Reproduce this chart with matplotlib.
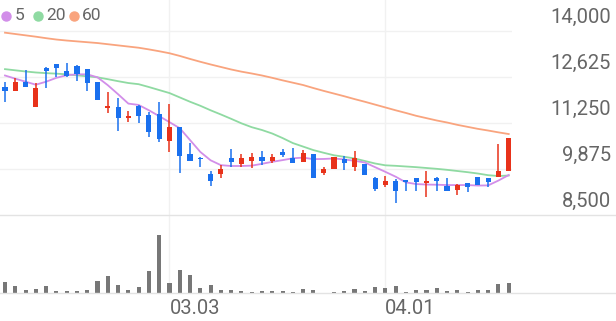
import matplotlib
matplotlib.use('Agg')
import matplotlib.pyplot as plt
from matplotlib.transforms import blended_transform_factory
from matplotlib.lines import Line2D

plt.rcParams['font.family'] = ['Roboto', 'DejaVu Sans']

# ---------------- data ----------------
open_ = [12320, 12210, 12480, 11720, 12900, 13000, 12810, 12950, 12860, 12470,
         11690, 11740, 11410, 11760, 11490, 11510, 10720, 11140, 10320, 10210,
         9730, 9730, 10210, 10020, 10110, 10220, 10110, 10390, 10190, 10080,
         10320, 9750, 9870, 10170, 9940, 10020, 9620, 9400, 9520, 9550,
         9620, 9450, 9600, 9380, 9250, 9450, 9650, 9600, 9630, 9820]
close = [12220, 12480, 12340, 12300, 12800, 12900, 12660, 12710, 12450, 11940,
         11760, 11390, 11470, 11470, 10970, 10760, 11140, 10270, 10120, 10170,
         9530, 9870, 10080, 10190, 10220, 10110, 10220, 10290, 10060, 10340,
         9620, 9870, 10240, 10050, 10190, 9700, 9270, 9520, 9220, 9480,
         9500, 9520, 9520, 9230, 9400, 9350, 9400, 9480, 9820, 10810]
high = [12480, 12590, 12830, 12450, 12930, 13000, 13050, 12980, 12860, 12470,
        12190, 11990, 11610, 11790, 11590, 11890, 11810, 11140, 10640, 10220,
        9820, 9990, 10460, 10320, 10340, 10420, 10310, 10460, 10490, 10440,
        10320, 9940, 10240, 10260, 10420, 10020, 9650, 9670, 9570, 9550,
        9620, 9820, 9650, 9620, 9430, 9450, 9650, 9600, 10610, 10810]
low = [11890, 12210, 12320, 11720, 12300, 12630, 12630, 12510, 12210, 11940,
       11540, 11020, 11280, 11260, 10820, 10690, 10390, 9760, 10120, 9930,
       9370, 9600, 9930, 9930, 9900, 9990, 10050, 10220, 10060, 10080,
       9620, 9700, 9870, 9850, 9820, 9700, 9230, 9350, 8850, 9220,
       9220, 9050, 9220, 9230, 9100, 9200, 9400, 9330, 9630, 9820]
volume = [220000, 134000, 66000, 80000, 146000, 46000, 46000, 46000, 66000, 234000,
          334000, 166000, 60000, 120000, 434000, 1154000, 200000, 466000, 366000, 100000,
          154000, 66000, 66000, 34000, 30000, 34000, 46000, 46000, 20000, 80000,
          66000, 10000, 14000, 34000, 80000, 46000, 120000, 100000, 134000, 20000,
          54000, 66000, 94000, 34000, 54000, 14000, 66000, 54000, 186000, 200000]
ma5 = [12670, 12575, 12485, 12395, 12485, 12600, 12680, 12705, 12705, 12615,
       12380, 12110, 11830, 11790, 11630, 11455, 11275, 11095, 10740, 10385,
       10135, 9990, 9965, 9965, 9975, 10030, 10090, 10140, 10195, 10215,
       10170, 10175, 10190, 10160, 10120, 10070, 9930, 9790, 9645, 9475,
       9425, 9410, 9405, 9395, 9395, 9395, 9380, 9385, 9530, 9695]
ma20 = [12860, 12825, 12790, 12760, 12740, 12725, 12705, 12675, 12645, 12615,
        12560, 12500, 12445, 12410, 12325, 12235, 12145, 12015, 11885, 11765,
        11630, 11505, 11375, 11240, 11125, 11040, 10935, 10800, 10650, 10545,
        10440, 10360, 10285, 10240, 10190, 10115, 10040, 9985, 9970, 9950,
        9930, 9905, 9880, 9850, 9815, 9780, 9740, 9690, 9665, 9680]
ma60 = [13950, 13910, 13870, 13830, 13785, 13745, 13715, 13690, 13665, 13640,
        13605, 13570, 13535, 13500, 13450, 13395, 13335, 13255, 13165, 13080,
        13000, 12925, 12850, 12785, 12730, 12670, 12600, 12525, 12455, 12385,
        12295, 12210, 12130, 12050, 11965, 11885, 11800, 11715, 11630, 11550,
        11465, 11395, 11325, 11265, 11195, 11135, 11075, 11025, 10970, 10920]
price_ticks = [8500, 9875, 11250, 12625, 14000]
date_tick_idx = [16, 37]
date_tick_labels = ['03.03', '04.01']
legend_labels = ['5', '20', '60']

# ---------------- styles ----------------
RED = '#e8321a'
BLUE = '#1a70ee'
C5, C20, C60 = '#d28ee9', '#8fdaa2', '#f9a47e'
GRID = '#f1f1f1'
SEP = '#e3e3e3'
TXT = '#666666'

W, H = 616, 321
fig = plt.figure(figsize=(W / 100, H / 100), dpi=100)
fig.patch.set_facecolor('white')

step = 10.28
x0 = 5
plot_w = 512
xlim = (-x0 / step, (plot_w - x0) / step)

# price axes: pixel y 0..215
ax = fig.add_axes([0, (H - 215) / H, plot_w / W, 215 / H])
ax.set_xlim(*xlim)
ax.set_ylim(8500, 8500 + 215 * 1375 / 46)
ax.axis('off')

# volume axes: pixel y 215..293
vax = fig.add_axes([0, (H - 293) / H, plot_w / W, 78 / H])
vax.set_xlim(*xlim)
vax.set_ylim(0, 78 * 20000)
vax.axis('off')

n = len(close)
xs = list(range(n))

for v in price_ticks[1:]:
    ax.axhline(v, color=GRID, lw=1, zorder=0)
for i in date_tick_idx:
    ax.axvline(i, color=GRID, lw=1, zorder=0)
    vax.axvline(i, color=GRID, lw=1, zorder=0)

# separators spanning full width
fig.add_artist(Line2D([0, 1], [(H - 215) / H] * 2, color=SEP, lw=1, transform=fig.transFigure))
fig.add_artist(Line2D([0, 1], [(H - 293) / H] * 2, color=SEP, lw=1, transform=fig.transFigure))

# moving averages
ax.plot(xs, ma60, color=C60, lw=1.3, zorder=2)
ax.plot(xs, ma20, color=C20, lw=1.3, zorder=2)
ax.plot(xs, ma5, color=C5, lw=1.3, zorder=2)

# candles
colors = [RED if c >= o else BLUE for o, c in zip(open_, close)]
ax.vlines(xs, low, high, colors=colors, lw=1.1, zorder=3)
bottoms = [min(o, c) for o, c in zip(open_, close)]
heights = [max(abs(c - o), 30) for o, c in zip(open_, close)]
ax.bar(xs, heights, bottom=bottoms, width=0.5, color=colors, zorder=4, linewidth=0)

# volume
vax.bar(xs, volume, width=0.4, color='#777777', linewidth=0, zorder=2)

# price labels
btr = blended_transform_factory(fig.transFigure, ax.transData)
for v in price_ticks:
    ax.annotate(f'{v:,}', xy=(611 / W, v), xycoords=btr, xytext=(0, 14),
                textcoords='offset pixels', ha='right', va='center',
                fontsize=14.5, color=TXT, annotation_clip=False)

# date labels
dtr = blended_transform_factory(vax.transData, fig.transFigure)
for i, lab in zip(date_tick_idx, date_tick_labels):
    vax.text(i, (H - 309) / H, lab, transform=dtr, ha='left', va='center',
             fontsize=14.5, color=TXT, clip_on=False)

# legend
dot_x = [6, 37.5, 73.5]
txt_x = [15, 46, 82]
ly = (H - 16) / H
for dx, tx, col, lab in zip(dot_x, txt_x, [C5, C20, C60], legend_labels):
    fig.add_artist(Line2D([dx / W], [ly], marker='o', markersize=6.5, color=col,
                          linestyle='none', transform=fig.transFigure))
    fig.text(tx / W, ly, lab, ha='left', va='center', fontsize=12.5, color=TXT)

fig.savefig('out.png', dpi=100)
